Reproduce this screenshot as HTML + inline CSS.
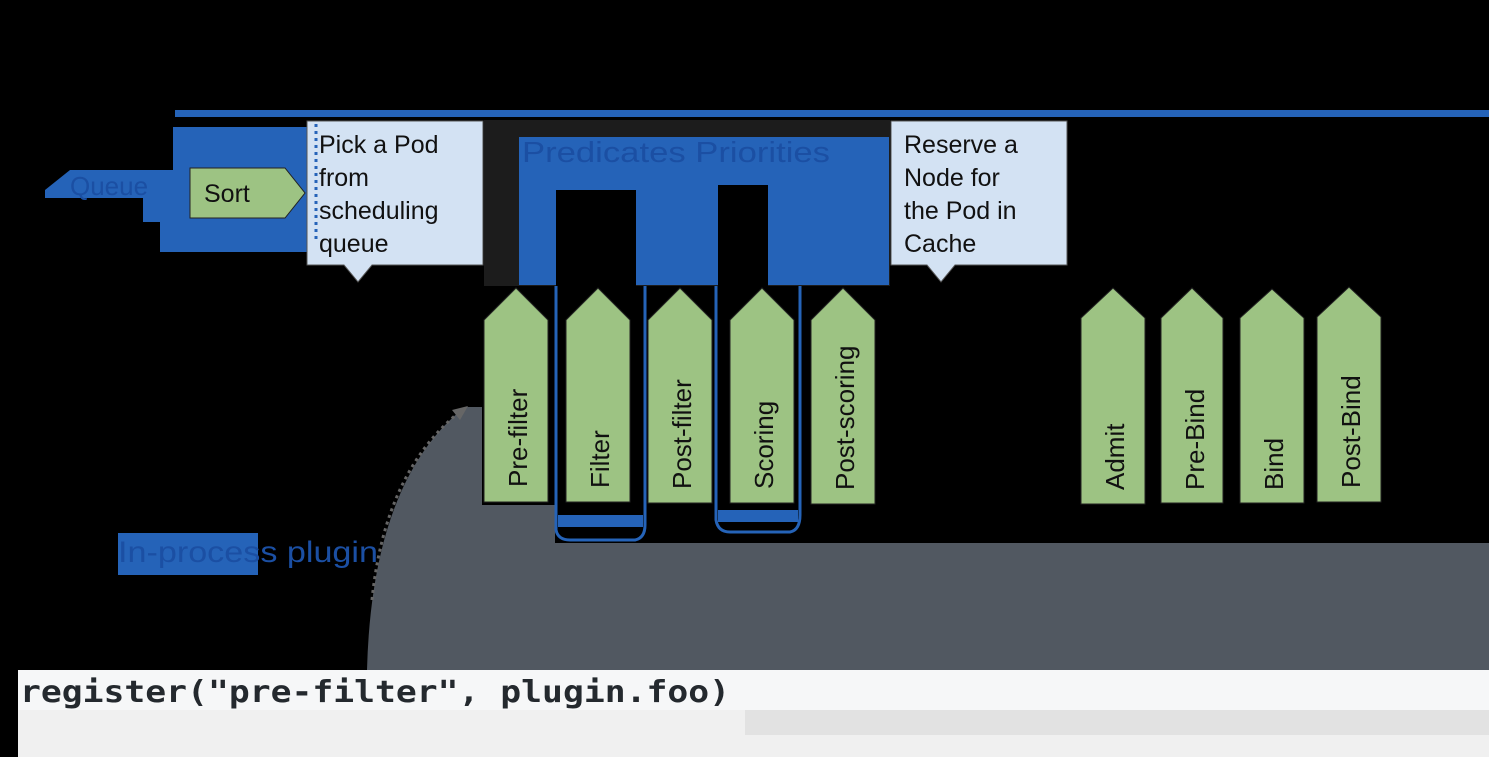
<!DOCTYPE html>
<html><head><meta charset="utf-8"><style>
html,body{margin:0;padding:0;background:#000;}
svg{display:block}
</style></head><body>
<svg width="1489" height="757" viewBox="0 0 1489 757" xmlns="http://www.w3.org/2000/svg" font-family="Liberation Sans, sans-serif">
<rect width="1489" height="757" fill="#000"/>
<!-- gray region -->
<path d="M367,670 Q372,480 465,407 L482,407 L482,505 L555,505 L555,543 L1489,543 L1489,670 Z" fill="#515861"/>
<!-- top blue line -->
<rect x="175" y="110" width="1314" height="7" fill="#2563b8"/>
<!-- left blue structure -->
<rect x="173" y="127" width="134" height="115" fill="#2563b8"/>
<rect x="160" y="222" width="147" height="30" fill="#2563b8"/>
<rect x="143" y="170" width="30" height="52" fill="#2563b8"/>
<polygon points="45,190 70,170 160,170 160,198 45,198" fill="#2563b8"/>
<text x="70" y="195" font-size="26" fill="#1b4fa3">Queue</text>
<polygon points="190,168 285,168 305,193 285,218 190,218" fill="#9dc383" stroke="#222" stroke-width="1"/>
<text x="204" y="202" font-size="25" fill="#111">Sort</text>
<!-- middle dark + blue area -->
<rect x="484" y="120" width="406" height="166" fill="#1c1c1c"/>
<rect x="519" y="137" width="370" height="148" fill="#2563b8"/>
<rect x="556" y="190" width="80" height="96" fill="#000"/>
<rect x="718" y="185" width="50" height="101" fill="#000"/>
<text x="522" y="162" font-size="29" fill="#1b4fa3" textLength="308" lengthAdjust="spacingAndGlyphs">Predicates  Priorities</text>
<!-- callouts -->
<path d="M307,121 H483 V265 H372 L358,282 L344,265 H307 Z" fill="#d3e2f3" stroke="#555" stroke-width="1"/>
<line x1="316" y1="124" x2="316" y2="240" stroke="#2563b8" stroke-width="3" stroke-dasharray="3,4"/>
<text font-size="25" fill="#111"><tspan x="319" y="153">Pick a Pod</tspan><tspan x="319" y="186">from</tspan><tspan x="319" y="219">scheduling</tspan><tspan x="319" y="252">queue</tspan></text>
<path d="M891,121 H1067 V265 H955 L941,282 L927,265 H891 Z" fill="#d3e2f3" stroke="#555" stroke-width="1"/>
<text font-size="25" fill="#111"><tspan x="904" y="153">Reserve a</tspan><tspan x="904" y="186">Node for</tspan><tspan x="904" y="219">the Pod in</tspan><tspan x="904" y="252">Cache</tspan></text>
<!-- blue frames -->
<path d="M556,286 V530 Q558,540 570,540 H635 Q645,538 645,525 V286" fill="none" stroke="#2563b8" stroke-width="3"/>
<rect x="558" y="515" width="85" height="12" fill="#2563b8"/>
<path d="M716,286 V520 Q718,532 730,532 H790 Q800,530 800,515 V286" fill="none" stroke="#2563b8" stroke-width="3"/>
<rect x="718" y="510" width="80" height="12" fill="#2563b8"/>
<!-- pillars -->
<g fill="#9dc383" stroke="#222" stroke-width="1">
<polygon points="484,502 484,320 516,288 548,320 548,502"/>
<polygon points="566,502 566,320 598,288 630,320 630,502"/>
<polygon points="648,503 648,320 680,288 712,320 712,503"/>
<polygon points="730,503 730,320 762,288 794,320 794,503"/>
<polygon points="811,504 811,320 843,288 875,320 875,504"/>
<polygon points="1081,504 1081,318 1113,288 1145,318 1145,504"/>
<polygon points="1161,503 1161,318 1192,288 1223,318 1223,503"/>
<polygon points="1240,503 1240,318 1272,289 1304,318 1304,503"/>
<polygon points="1317,502 1317,317 1349,287 1381,317 1381,502"/>
</g>
<g font-size="26" fill="#111">
<text transform="translate(527,487) rotate(-90)">Pre-filter</text>
<text transform="translate(609,488) rotate(-90)">Filter</text>
<text transform="translate(691,489) rotate(-90)">Post-filter</text>
<text transform="translate(773,489) rotate(-90)">Scoring</text>
<text transform="translate(854,490) rotate(-90)">Post-scoring</text>
<text transform="translate(1124,490) rotate(-90)">Admit</text>
<text transform="translate(1204,490) rotate(-90)">Pre-Bind</text>
<text transform="translate(1283,490) rotate(-90)">Bind</text>
<text transform="translate(1360,488) rotate(-90)">Post-Bind</text>
</g>
<!-- in-process plugin -->
<rect x="118" y="533" width="140" height="42" fill="#2563b8"/>
<text x="118" y="562" font-size="30" fill="#1b4fa3" textLength="260" lengthAdjust="spacingAndGlyphs">In-process plugin</text>
<path d="M372,600 Q385,470 462,410" fill="none" stroke="#666" stroke-width="3" stroke-dasharray="3,4"/>
<polygon points="468,406 452,410 460,420" fill="#666"/>
<!-- code bar -->
<rect x="18" y="670" width="1471" height="40" fill="#f6f7f8"/>
<rect x="18" y="710" width="1471" height="47" fill="#f0f0f0"/>
<rect x="745" y="710" width="744" height="25" fill="#e2e2e2"/>
<text x="20" y="702" style="font-family:'DejaVu Sans Mono','Liberation Mono',monospace;font-weight:bold;font-size:30px" fill="#24292e" textLength="710" lengthAdjust="spacingAndGlyphs">register("pre-filter", plugin.foo)</text>
</svg>
</body></html>
